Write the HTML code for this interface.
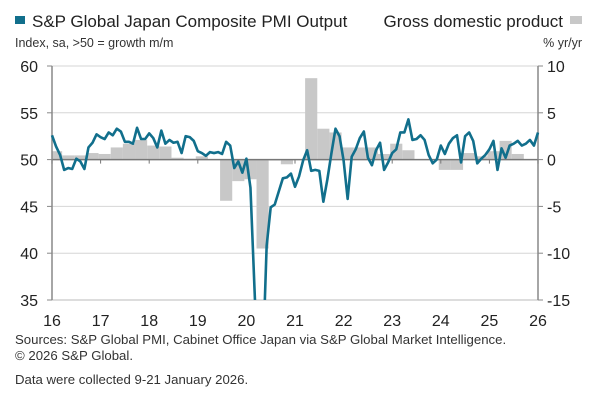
<!DOCTYPE html>
<html><head><meta charset="utf-8"><style>
body{margin:0;background:#fff;width:600px;height:404px;overflow:hidden;font-family:"Liberation Sans",sans-serif}
</style></head><body>
<svg width="600" height="404" xmlns="http://www.w3.org/2000/svg" id="c" font-family="Liberation Sans, sans-serif">
<rect x="15" y="16" width="10" height="8" fill="#116f8c"/>
<text x="32" y="27" font-size="17" fill="#222">S&amp;P Global Japan Composite PMI Output</text>
<text x="563" y="27" font-size="17" fill="#222" text-anchor="end">Gross domestic product</text>
<rect x="570" y="16" width="12" height="8" fill="#c8c8c8"/>
<text x="15" y="47" font-size="12.5" fill="#333">Index, sa, &gt;50 = growth m/m</text>
<text x="582" y="47" font-size="12.5" fill="#333" text-anchor="end">% yr/yr</text>
<g id="grid"></g><g id="bars"></g><g id="axes"></g><g id="line"></g>
<text x="15" y="344" font-size="13.2" fill="#333">Sources: S&amp;P Global PMI, Cabinet Office Japan via S&amp;P Global Market Intelligence.</text>
<text x="15" y="360" font-size="13.2" fill="#333">© 2026 S&amp;P Global.</text>
<text x="15" y="384" font-size="13.2" fill="#333">Data were collected 9-21 January 2026.</text>
</svg>
<script>
const pmi=[52.6,51.4,50.5,48.9,49.1,49.0,50.1,49.8,49.0,51.3,51.8,52.7,
52.4,52.2,52.9,52.6,53.3,53.0,51.9,51.9,51.7,53.4,52.2,52.2,
52.8,52.3,51.3,53.1,51.7,52.1,51.8,51.9,50.7,52.5,52.4,52.0,
50.9,50.7,50.4,50.8,50.7,50.8,50.6,51.9,51.5,49.1,49.8,48.6,
50.1,47.0,36.2,25.8,27.8,40.8,44.9,45.2,46.6,48.0,48.1,48.5,
47.1,48.2,49.9,51.0,48.8,48.9,48.8,45.5,47.9,50.7,53.3,52.5,
49.9,45.8,50.3,51.1,52.3,53.0,50.2,49.4,51.0,51.8,48.9,49.7,
50.7,51.1,52.9,52.9,54.3,52.1,52.2,52.6,52.1,50.5,49.6,50.0,
51.5,50.6,51.7,52.3,52.6,49.7,52.5,52.9,52.0,49.6,50.1,50.5,
51.1,52.0,48.9,51.2,50.2,51.5,51.7,52.0,51.5,51.7,52.1,51.5,52.9];
const gdp=[0.9,0.45,0.45,0.7,0.6,1.3,1.7,2.1,1.5,1.4,0.2,0.1,0.35,0.05,-4.4,-2.3,-2.1,-9.5,-0.1,-0.5,
0.0,8.7,3.3,2.9,1.3,1.3,1.3,0.6,1.7,1.0,0.05,0.05,-1.1,-1.1,0.7,0.35,0.9,2.0,0.6];
const yearLabels=["16","17","18","19","20","21","22","23","24","25","26"];
const leftTicks=[60,55,50,45,40,35];
const rightTicks=[10,5,0,-5,-10,-15];
const NS="http://www.w3.org/2000/svg";
const X0=52,X1=538,T=66,B=300;
const xm=m=>X0+(X1-X0)*m/120;
const yl=v=>T+(60-v)*(B-T)/25;
const yr=v=>T+(10-v)*(B-T)/25;
function mk(p,tag,a){const e=document.createElementNS(NS,tag);for(const k in a)e.setAttribute(k,a[k]);document.getElementById(p).appendChild(e);return e;}
leftTicks.forEach((v,i)=>{
 if(v!==50&&v!==35){const g=mk('grid','line',{x1:X0,x2:X1,y1:yl(v),y2:yl(v),stroke:'#d6d6d6','stroke-width':1});
 
 }
 const t=mk('axes','text',{x:38,y:yl(v)+6,'font-size':16,fill:'#222','text-anchor':'end'});t.textContent=v;
 
 
 mk('axes','line',{x1:X0-5,x2:X0,y1:yl(v),y2:yl(v),stroke:'#888'});
});
rightTicks.forEach(v=>{
 const t=mk('axes','text',{x:547,y:yr(v)+6,'font-size':16,fill:'#222'});t.textContent=v;
 
 
 mk('axes','line',{x1:X1,x2:X1+5,y1:yr(v),y2:yr(v),stroke:'#888'});
});
gdp.forEach((v,i)=>{
 const x=xm(3*i-0.5),w=xm(3*i+2.5)-x;
 const r=mk('bars','rect',{x:Math.max(x,X0),y:Math.min(yr(v),yr(0)),width:w-(x<X0?X0-x:0),height:Math.abs(yr(v)-yr(0)),fill:'#c8c8c8'});
 
 
});
mk('axes','line',{x1:X0,x2:X1,y1:yl(50),y2:yl(50),stroke:'#777','stroke-width':1.5});
mk('axes','line',{x1:X0,x2:X1,y1:B,y2:B,stroke:'#bbb','stroke-width':1});
mk('axes','line',{x1:X0,x2:X0,y1:T,y2:B,stroke:'#888','stroke-width':1.5});
mk('axes','line',{x1:X1,x2:X1,y1:T,y2:B,stroke:'#888','stroke-width':1.5});
yearLabels.forEach((l,i)=>{
 const x=xm(12*i);
 mk('axes','line',{x1:x,x2:x,y1:yl(50),y2:yl(50)+4,stroke:'#777'});
 const t=mk('axes','text',{x:x,y:326,'font-size':16,fill:'#222','text-anchor':'middle'});t.textContent=l;
 
 
});
const cp=mk('line','clipPath',{id:'cl'});const cr=document.createElementNS(NS,'rect');
cr.setAttribute('x',X0-3);cr.setAttribute('y',T);cr.setAttribute('width',X1-X0+6);cr.setAttribute('height',B-T);cp.appendChild(cr);
const p=mk('line','polyline',{points:pmi.map((v,i)=>xm(i)+','+yl(v)).join(' '),fill:'none',stroke:'#116f8c','stroke-width':2.6,'stroke-linejoin':'round','clip-path':'url(#cl)'});


</script>
</body></html>
